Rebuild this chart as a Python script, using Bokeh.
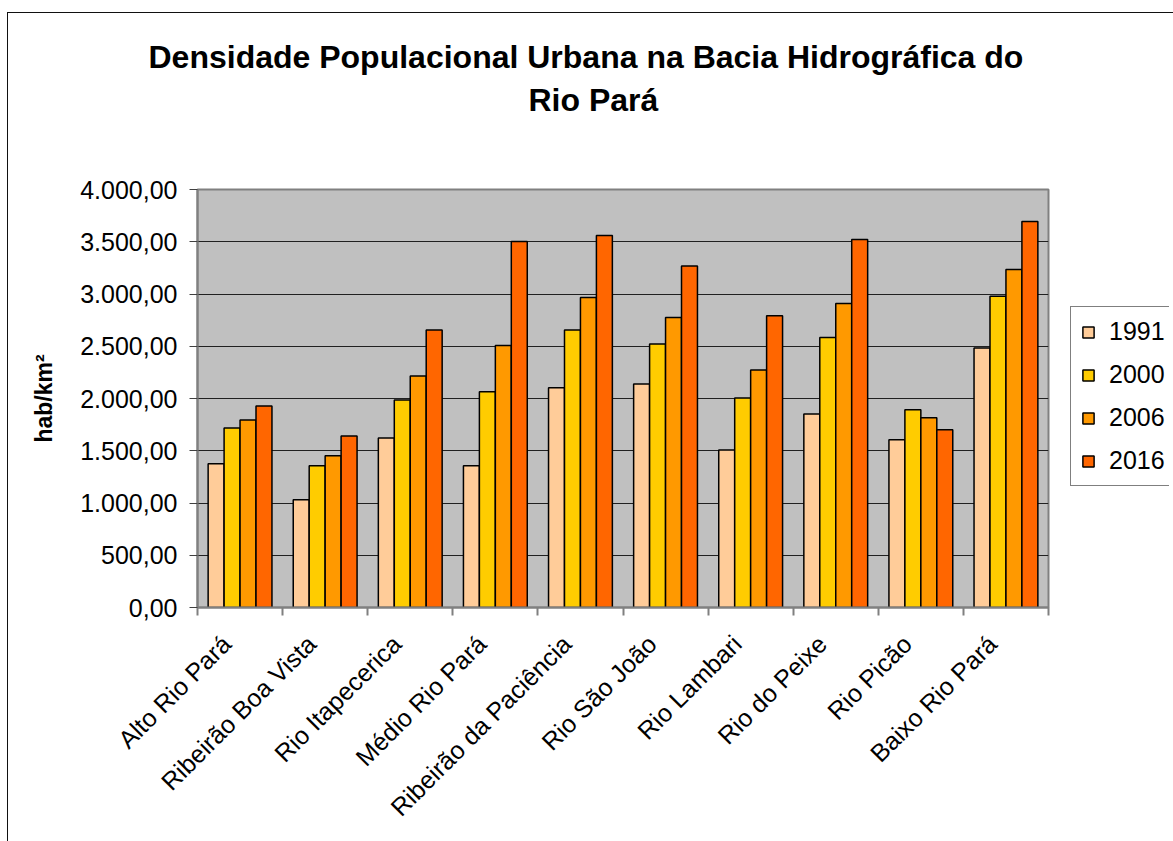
from bokeh.plotting import figure
from bokeh.layouts import row
from bokeh.models import ColumnDataSource, FixedTicker, Legend, LegendItem, Title
from bokeh.transform import dodge
from bokeh.embed import file_html
from bokeh.resources import INLINE
import math

categories = ["Alto Rio Pará", "Ribeirão Boa Vista", "Rio Itapecerica", "Médio Rio Pará",
              "Ribeirão da Paciência", "Rio São João", "Rio Lambari", "Rio do Peixe",
              "Rio Picão", "Baixo Rio Pará"]
years = ["1991", "2000", "2006", "2016"]
v1991 = [1375, 1030, 1622, 1357, 2104, 2139, 1507, 1852, 1606, 2484]
v2000 = [1717, 1357, 1986, 2065, 2656, 2522, 2005, 2583, 1893, 2978]
v2006 = [1794, 1452, 2215, 2506, 2966, 2774, 2273, 2908, 1816, 3234]
v2016 = [1928, 1641, 2656, 3502, 3559, 3269, 2793, 3521, 1702, 3694]
colors = ["#FFCC99", "#FFCC00", "#FF9900", "#FF6600"]
y_ticks = [0, 500, 1000, 1500, 2000, 2500, 3000, 3500, 4000]
y_tick_labels = ["0,00", "500,00", "1.000,00", "1.500,00", "2.000,00",
                 "2.500,00", "3.000,00", "3.500,00", "4.000,00"]
title_line1 = "Densidade Populacional Urbana na Bacia Hidrográfica do"
title_line2 = "Rio Pará"
y_title = "hab/km²"

FONT = "Liberation Sans"
n = len(categories)
centers = [i + 0.5 for i in range(n)]
source = ColumnDataSource(dict(x=centers, cat=categories, y1991=v1991, y2000=v2000,
                               y2006=v2006, y2016=v2016))

p = figure(width=1061, height=828, x_range=(0, n), y_range=(0, 4000),
           output_backend="svg", toolbar_location=None,
           min_border_left=189, min_border_right=21, min_border_top=176, min_border_bottom=234)
p.background_fill_color = "#C0C0C0"
p.border_fill_color = "white"
p.outline_line_color = "#808080"
p.outline_line_width = 2

bw = 0.1875
for j, (yr, col) in enumerate(zip(years, colors)):
    p.vbar(x=dodge("x", (j - 1.5) * bw, range=p.x_range), top="y" + yr, width=bw,
           source=source, fill_color=col, line_color="black", line_width=1.5)

# x axis: labels under each group, small ticks between groups
label_pos = [c - 0.16 for c in centers]
xa = p.xaxis[0]
xa.ticker = FixedTicker(ticks=label_pos, minor_ticks=list(range(n + 1)))
xa.major_label_overrides = {c: lab for c, lab in zip(label_pos, categories)}
xa.major_label_orientation = math.pi / 4
xa.major_tick_out = 0
xa.major_tick_in = 0
xa.minor_tick_out = 8
xa.minor_tick_in = 0
xa.minor_tick_line_color = "#808080"
xa.minor_tick_line_width = 2
xa.axis_line_color = "#808080"
xa.axis_line_width = 2
xa.major_label_text_font = FONT
xa.major_label_text_font_size = "25px"
xa.major_label_text_color = "black"
xa.major_label_standoff = 24

ya = p.yaxis[0]
ya.ticker = FixedTicker(ticks=y_ticks, minor_ticks=[])
ya.major_label_overrides = {t: lab for t, lab in zip(y_ticks, y_tick_labels)}
ya.major_tick_out = 8
ya.major_tick_in = 0
ya.major_tick_line_color = "#404040"
ya.axis_line_color = "#808080"
ya.axis_line_width = 2
ya.major_label_text_font = FONT
ya.major_label_text_font_size = "25px"
ya.major_label_text_color = "black"
ya.major_label_standoff = 12
ya.axis_label = y_title
ya.axis_label_text_font = FONT
ya.axis_label_text_font_style = "bold"
ya.axis_label_text_font_size = "23px"
ya.axis_label_text_color = "black"
ya.axis_label_standoff = 20

p.xgrid.visible = False
p.ygrid.ticker = FixedTicker(ticks=y_ticks)
p.ygrid.grid_line_color = "#202020"
p.ygrid.grid_line_width = 1

# titles: spacer nearest to frame, then line 2, then line 1
spacer = Title(text=" ", text_font_size="1px", standoff=66)
t2 = Title(text=title_line2, align="left", offset=331, text_font=FONT, text_font_size="32px",
           text_font_style="bold", text_color="black", standoff=5)
t1 = Title(text=title_line1, align="left", offset=-49,
           text_font=FONT, text_font_size="32px", text_font_style="bold",
           text_color="black", standoff=5)
p.add_layout(spacer, "above")
p.add_layout(t2, "above")
p.add_layout(t1, "above")

# legend panel (separate canvas to the right; its frame is aligned with the chart's frame)
q = figure(width=100, height=828, x_range=(0, 1), y_range=(0, 1),
           output_backend="svg", toolbar_location=None,
           min_border_left=0, min_border_right=0, min_border_top=0, min_border_bottom=0)
q.axis.visible = False
q.grid.visible = False
q.outline_line_color = None
q.background_fill_color = "white"
q.border_fill_color = "white"
swatches = []
for yr, col in zip(years, colors):
    # off-range placeholder used only to draw the legend swatch
    swatches.append(q.quad(left=[-3], right=[-2], bottom=[-3], top=[-2], fill_color=col,
                           line_color="black", line_width=1.5))
legend = Legend(items=[LegendItem(label=yr, renderers=[r]) for yr, r in zip(years, swatches)],
                location=(1, 121), label_text_font=FONT, label_text_font_size="25px",
                label_text_color="black",
                glyph_width=14, glyph_height=14, label_standoff=14, spacing=14,
                label_height=26, padding=10, margin=0, border_line_color="black",
                border_line_width=1, background_fill_color="white", background_fill_alpha=1.0)
q.add_layout(legend, "center")

layout = row(p, q, spacing=0)
layout.styles = {"margin-left": "7px", "margin-top": "12px", "padding-right": "4px",
                 "border-left": "1px solid #111111", "border-top": "1px solid #111111"}
open("out.html", "w").write(file_html(layout, INLINE))
